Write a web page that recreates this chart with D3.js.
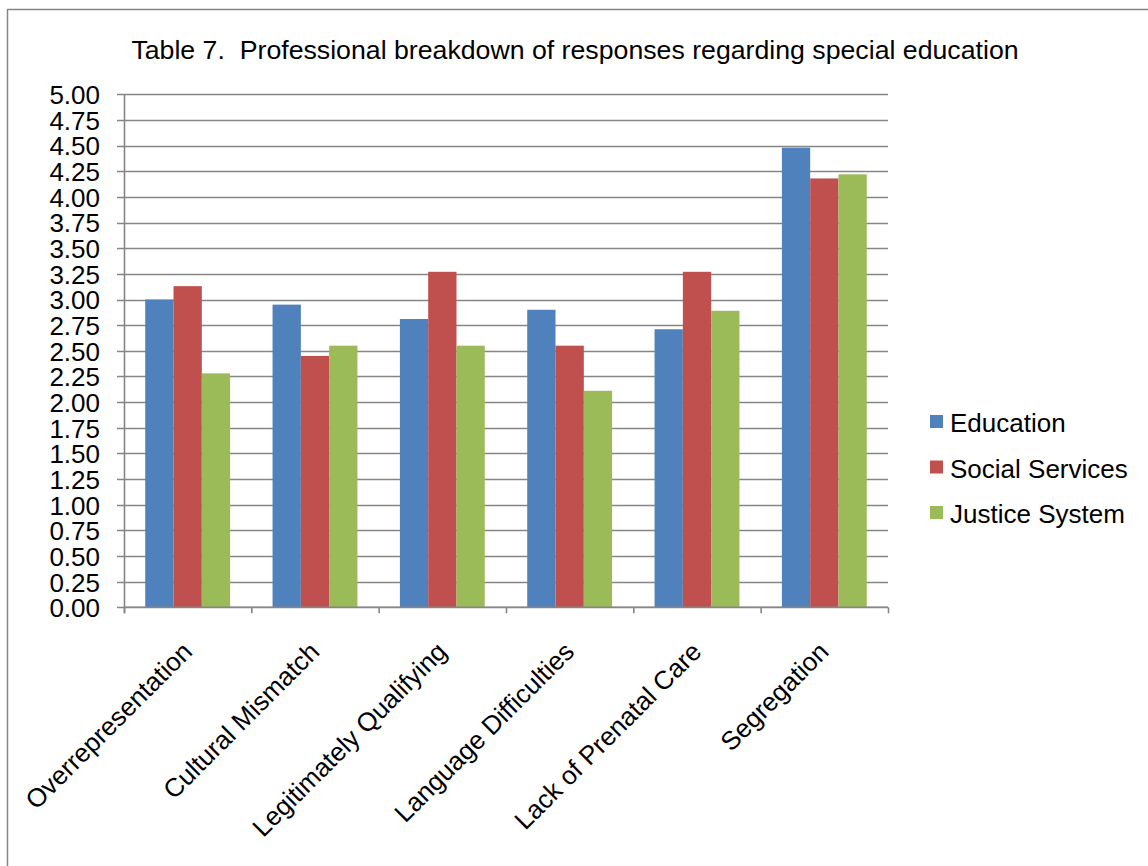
<!DOCTYPE html>
<html>
<head>
<meta charset="utf-8">
<script src="https://cdn.jsdelivr.net/npm/d3@7"></script>
<style>
  html, body { margin: 0; padding: 0; background: #fff; }
  svg { display: block; font-family: "Liberation Sans", Arial, sans-serif; }
  .title { white-space: pre; }
</style>
</head>
<body>
<svg id="chart" width="1148" height="866"></svg>
<script>
const categories = ["Overrepresentation", "Cultural Mismatch", "Legitimately Qualifying", "Language Difficulties", "Lack of Prenatal Care", "Segregation"];
const seriesNames = ["Education", "Social Services", "Justice System"];
const education = [3.00, 2.95, 2.81, 2.90, 2.71, 4.48];
const socialServices = [3.13, 2.45, 3.27, 2.55, 3.27, 4.18];
const justiceSystem = [2.28, 2.55, 2.55, 2.11, 2.89, 4.22];
const yTicks = [0, 0.25, 0.5, 0.75, 1, 1.25, 1.5, 1.75, 2, 2.25, 2.5, 2.75, 3, 3.25, 3.5, 3.75, 4, 4.25, 4.5, 4.75, 5];
const colors = ["#4F81BD", "#C0504D", "#9BBB59"];
const title = "Table 7.  Professional breakdown of responses regarding special education";

(function () {
const seriesValues = [education, socialServices, justiceSystem];
const svg = d3.select("#chart");
const gray = "#868686";

// outer border
svg.append("rect").attr("x", 7.5).attr("y", 9.5).attr("width", 1300).attr("height", 1000)
  .attr("fill", "none").attr("stroke", gray).attr("stroke-width", 1.5);

const pLeft = 124, pRight = 888, pTop = 94.3, pBottom = 607.3;

const x0 = d3.scaleBand().domain(categories).range([pLeft, pRight]).padding(0);
const bw = x0.bandwidth();
const x1 = d3.scaleBand().domain(seriesNames).range([bw / 6, bw - bw / 6]).padding(0);
const y = d3.scaleLinear().domain([0, 5]).range([pBottom, pTop]);

// gridlines
svg.append("g").selectAll("line").data(yTicks).join("line")
  .attr("x1", pLeft - 7).attr("x2", pRight)
  .attr("y1", d => Math.round(y(d)) + 0.5).attr("y2", d => Math.round(y(d)) + 0.5)
  .attr("stroke", gray).attr("stroke-width", 1.6);

// bars
const groups = svg.append("g").selectAll("g").data(categories).join("g")
  .attr("transform", c => `translate(${x0(c)},0)`);
groups.selectAll("rect").data((c, i) => seriesNames.map((s, j) => ({ s, j, v: seriesValues[j][i] })))
  .join("rect")
  .attr("x", d => x1(d.s))
  .attr("width", x1.bandwidth())
  .attr("y", d => y(d.v))
  .attr("height", d => y(0) - y(d.v))
  .attr("fill", d => colors[d.j]);

// y axis
const yAxis = d3.axisLeft(y).tickValues(yTicks).tickFormat(d3.format(".2f")).tickSize(0).tickPadding(24);
const gy = svg.append("g").attr("transform", `translate(${pLeft},0)`).call(yAxis);
gy.select(".domain").attr("stroke", gray).attr("stroke-width", 1.6).attr("d", `M0.5,${pTop}V${pBottom + 6}`);
gy.selectAll("text").attr("font-size", 26).attr("fill", "#000").attr("dy", "0.36em")
  .attr("font-family", "'Liberation Sans', Arial, sans-serif");

// x axis
svg.append("line").attr("x1", pLeft).attr("x2", pRight).attr("y1", pBottom).attr("y2", pBottom)
  .attr("stroke", gray).attr("stroke-width", 1.6);
const boundaries = categories.map(c => x0(c)).concat([pRight]);
svg.append("g").selectAll("line").data(boundaries).join("line")
  .attr("x1", d => d + 0.5).attr("x2", d => d + 0.5).attr("y1", pBottom).attr("y2", pBottom + 6)
  .attr("stroke", gray).attr("stroke-width", 1.6);

svg.append("g").selectAll("text").data(categories).join("text")
  .attr("transform", c => `translate(${x0(c) + bw / 2 + 6},${pBottom + 46}) rotate(-45)`)
  .attr("text-anchor", "end")
  .attr("font-size", 26)
  .attr("fill", "#000")
  .text(c => c);

// title
svg.append("text").attr("class", "title").attr("x", 575).attr("y", 59).attr("text-anchor", "middle")
  .attr("font-size", 26.7).attr("fill", "#000").text(title);

// legend
const lg = svg.append("g").selectAll("g").data(seriesNames).join("g")
  .attr("transform", (d, i) => `translate(930,${415 + i * 45.5})`);
lg.append("rect").attr("width", 13).attr("height", 13).attr("fill", (d, i) => colors[i]);
lg.append("text").attr("x", 20).attr("y", 17).attr("font-size", 26).attr("fill", "#000").text(d => d);
})();
</script>
</body>
</html>
